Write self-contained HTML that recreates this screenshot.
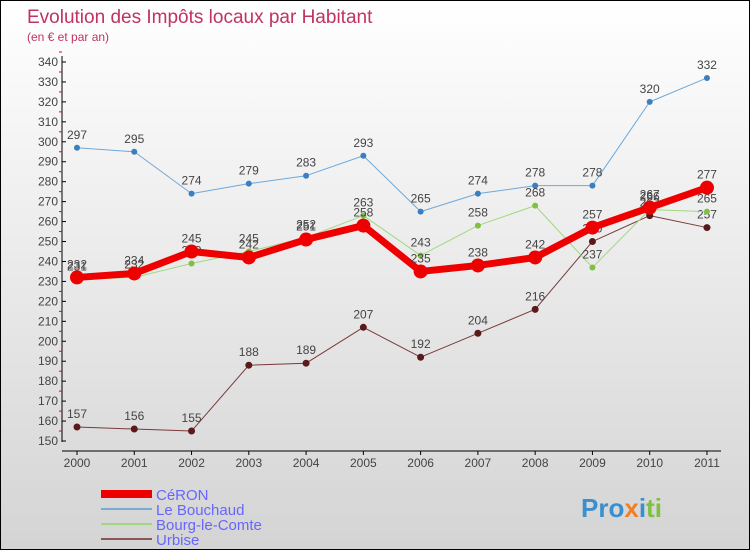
<!DOCTYPE html>
<html><head><meta charset="utf-8"><style>
body{margin:0}
#c{width:748px;height:548px;border:1px solid #000;background:linear-gradient(#fff,#d4d4d4);position:relative;font-family:"Liberation Sans",sans-serif;overflow:hidden}
</style></head><body>
<div id="c">
<svg id="s" width="748" height="548" style="position:absolute;left:0;top:0">
<text x="26" y="22" font-size="19" fill="#c0335f">Evolution des Impôts locaux par Habitant</text>
<text x="26" y="40" font-size="12" fill="#c0335f">(en € et par an)</text>
<g id="g"></g>
<g>
<rect x="100" y="489" width="51" height="8" fill="#e00"/>
<text x="155" y="499" font-size="15" fill="#6666ff">CéRON</text>
<rect x="100" y="507" width="51" height="2" fill="#7aaed0"/>
<text x="155" y="514" font-size="15" fill="#6666ff">Le Bouchaud</text>
<rect x="100" y="522" width="51" height="2" fill="#a0d880"/>
<text x="155" y="529" font-size="15" fill="#6666ff">Bourg-le-Comte</text>
<rect x="100" y="537" width="51" height="2" fill="#8a5555"/>
<text x="155" y="544" font-size="15" fill="#6666ff">Urbise</text>
</g>
<text x="580" y="516" font-size="26" font-weight="bold" fill="#3a8fd0">Pro<tspan fill="#f08020">x</tspan><tspan fill="#3a8fd0">i</tspan><tspan fill="#80c040">ti</tspan></text>
</svg>
</div>
<script>
const years=["2000","2001","2002","2003","2004","2005","2006","2007","2008","2009","2010","2011"];
const ceron=[232,234,245,242,251,258,235,238,242,257,267,277];
const bouchaud=[297,295,274,279,283,293,265,274,278,278,320,332];
const bourg=[231,232,239,245,252,263,243,258,268,237,266,265];
const urbise=[157,156,155,188,189,207,192,204,216,250,263,257];
const yTicks=[150,160,170,180,190,200,210,220,230,240,250,260,270,280,290,300,310,320,330,340];
const NS="http://www.w3.org/2000/svg";
const g=document.getElementById('g');
function X(i){return 76+i*57.27;}
function Y(v){return 440-(v-150)*(379/190);}
function el(t,a){const e=document.createElementNS(NS,t);for(const k in a)e.setAttribute(k,a[k]);g.appendChild(e);return e;}
let ax=el('line',{x1:61,y1:55,x2:61,y2:441,stroke:'#000','stroke-width':1});


let bx=el('line',{x1:61,y1:450,x2:720,y2:450,stroke:'#000','stroke-width':1});


yTicks.forEach(v=>{
 el('line',{x1:61,y1:Y(v),x2:65,y2:Y(v),stroke:'#000'});
 el('line',{x1:58,y1:Y(v+5),x2:61,y2:Y(v+5),stroke:'#e00'});
 const t=el('text',{x:57,y:Y(v)+4,'font-size':12,'text-anchor':'end',fill:'#444'});t.textContent=v;
 
 
});
years.forEach((y,i)=>{
 el('line',{x1:X(i),y1:450,x2:X(i),y2:454,stroke:'#000'});
 const t=el('text',{x:X(i),y:466,'font-size':12,'text-anchor':'middle',fill:'#444'});t.textContent=y;
 
 
});
function series(d,col,w,r,dot,name){
 const p=el('polyline',{points:d.map((v,i)=>X(i)+','+Y(v)).join(' '),fill:'none',stroke:col,'stroke-width':w,'stroke-linejoin':'round'});
 
 
 d.forEach((v,i)=>{
  const c=el('circle',{cx:X(i),cy:Y(v),r:r,fill:dot});
  
  
  const t=el('text',{x:X(i),y:Y(v)-9,'font-size':12,'text-anchor':'middle',fill:'#444'});t.textContent=v;
  
  
 });
}
series(bouchaud,'#6fa8d8',1,3,'#3a7fc0','bouchaud');
series(urbise,'#7a3a3a',1,3.5,'#5a1a1a','urbise');
series(bourg,'#a0d880',1,3,'#80c040','bourg');
series(ceron,'#ee0000',7,7,'#ee0000','ceron');
</script>
</body></html>
